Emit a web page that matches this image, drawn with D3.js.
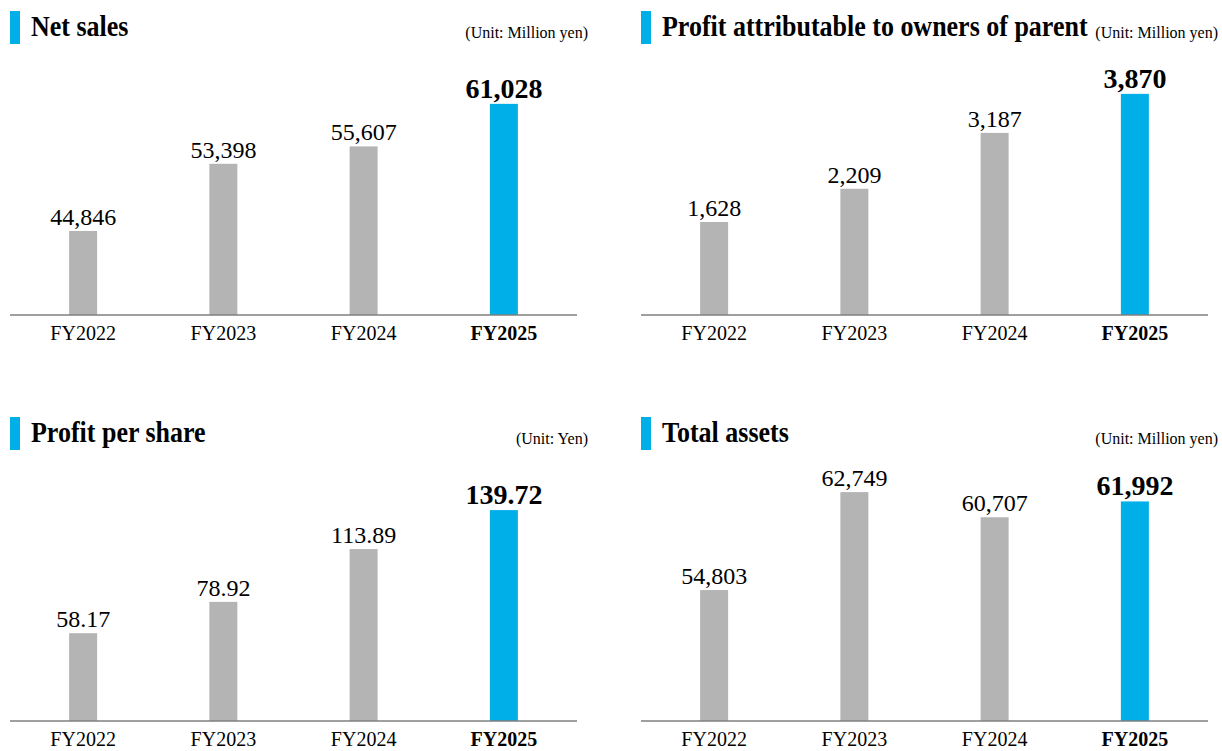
<!DOCTYPE html>
<html>
  <head>
    <meta charset="utf-8" />
    <style>
      body { margin: 0; background: #fff; }
      svg { display: block; font-family: "Liberation Serif", "Times New Roman", serif; }
    </style>
  </head>
  <body>
    <svg id="chart"></svg>

    <script src="https://d3js.org/d3.v7.min.js"></script>

    <script>
      const years = ["FY2022", "FY2023", "FY2024", "FY2025"];

      const titles = [
        "Net sales",
        "Profit attributable to owners of parent",
        "Profit per share",
        "Total assets",
      ];
      const units = [
        "(Unit: Million yen)",
        "(Unit: Million yen)",
        "(Unit: Yen)",
        "(Unit: Million yen)",
      ];

      const net_sales = [44846, 53398, 55607, 61028];
      const profit_parent = [1628, 2209, 3187, 3870];
      const profit_per_share = [58.17, 78.92, 113.89, 139.72];
      const total_assets = [54803, 62749, 60707, 61992];

      const series = [net_sales, profit_parent, profit_per_share, total_assets];
      const labelFormats = [",", ",", ".2f", ","];
      // the original axes don't all start at zero
      const yDomains = [
        [34150, 64700],
        [0, 4200],
        [0, 159],
        [44180, 63650],
      ];

      const width = 1222;
      const height = 751;
      const blue = "#00aee8";
      const grey = "#b4b4b4";

      const svg = d3
        .select("#chart")
        .attr("width", width)
        .attr("height", height);

      // panel origins (left edge, top edge)
      const panels = [
        { x: 10, y: 0 },
        { x: 641, y: 0 },
        { x: 10, y: 406 },
        { x: 641, y: 406 },
      ];

      series.forEach((values, i) => drawPanel(panels[i], i, values));

      function drawPanel(p, i, values) {
        const g = svg.append("g").attr("transform", `translate(${p.x},${p.y})`);
        const baseline = 315;
        const plotH = 240;

        const x = d3.scaleBand().domain(years).range([3, 564]);
        const y = d3.scaleLinear().domain(yDomains[i]).range([baseline, baseline - plotH]);
        const barW = 28;
        const last = years[years.length - 1];

        // title marker + title
        g.append("rect")
          .attr("x", 0)
          .attr("y", 11)
          .attr("width", 10)
          .attr("height", 33)
          .attr("fill", blue);

        // the title face in the original is a bit taller than it is wide
        g.append("text")
          .attr("transform", "translate(21,36) scale(1,1.15)")
          .attr("font-size", 26)
          .attr("font-weight", "bold")
          .attr("fill", "#000")
          .text(titles[i]);

        g.append("text")
          .attr("x", i % 2 === 0 ? 578 : 577)
          .attr("y", 38)
          .attr("text-anchor", "end")
          .attr("font-size", 16)
          .attr("fill", "#000")
          .text(units[i]);

        // bars
        g.append("g")
          .selectAll("rect")
          .data(values)
          .join("rect")
          .attr("x", (d, j) => x(years[j]) + x.bandwidth() / 2 - barW / 2)
          .attr("y", (d) => y(d))
          .attr("width", barW)
          .attr("height", (d) => baseline - y(d))
          .attr("fill", (d, j) => (years[j] === last ? blue : grey));

        // value labels
        const fmt = d3.format(labelFormats[i]);
        g.append("g")
          .attr("text-anchor", "middle")
          .selectAll("text")
          .data(values)
          .join("text")
          .attr("x", (d, j) => x(years[j]) + x.bandwidth() / 2)
          .attr("y", (d) => y(d) - 6)
          .attr("font-size", (d, j) => (years[j] === last ? 28 : 24))
          .attr("font-weight", (d, j) => (years[j] === last ? "bold" : "normal"))
          .attr("fill", "#000")
          .text((d) => fmt(d));

        // x axis
        const axis = g
          .append("g")
          .attr("transform", `translate(0,${baseline})`)
          .call(d3.axisBottom(x).tickSize(0).tickPadding(11));
        axis.select(".domain").attr("stroke", "#7f7f7f").attr("stroke-width", 1.5).attr("d", "M0,0H567");
        axis
          .selectAll(".tick text")
          .attr("font-family", "Liberation Serif, Times New Roman, serif")
          .attr("font-size", 20)
          .attr("fill", "#000")
          .attr("font-weight", (d) => (d === last ? "bold" : "normal"));
      }
    </script>
  </body>
</html>
